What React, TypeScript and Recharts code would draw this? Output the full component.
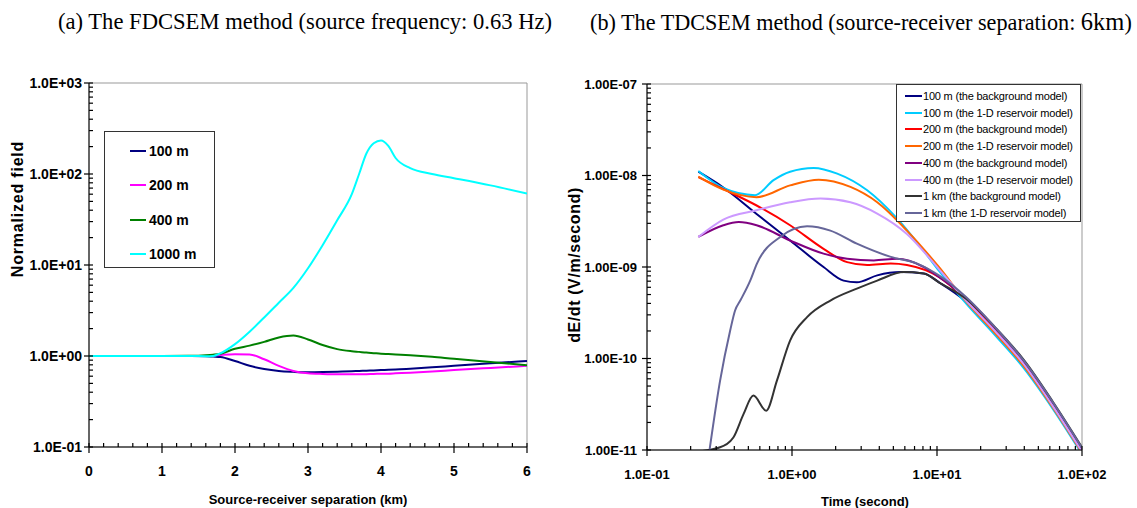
import React from 'react';
import { LineChart, Line, XAxis, YAxis, ReferenceArea, Label } from 'recharts';

// ---------- (a) FDCSEM: normalized field vs source-receiver separation ----------
const separationKm = [0, 0.5, 1.0, 1.4, 1.6, 1.7, 1.8, 2.0, 2.2, 2.4, 2.6, 2.8, 3.0, 3.2, 3.4, 3.6, 3.7, 3.8, 3.9, 4.0, 4.1, 4.2, 4.4, 4.7, 5.0, 5.5, 6.0];
const field100m = [1, 1, 1, 1, 0.995, 0.985, 0.975, 0.88, 0.78, 0.72, 0.685, 0.67, 0.662, 0.665, 0.672, 0.68, 0.685, 0.69, 0.695, 0.70, 0.705, 0.71, 0.725, 0.75, 0.78, 0.83, 0.88];
const field200m = [1, 1, 1, 1, 1.0, 1.01, 1.025, 1.045, 1.04, 0.92, 0.78, 0.685, 0.645, 0.635, 0.63, 0.63, 0.63, 0.632, 0.635, 0.638, 0.64, 0.645, 0.655, 0.675, 0.70, 0.74, 0.78];
const field400m = [1, 1, 1, 1.005, 1.02, 1.035, 1.06, 1.2, 1.3, 1.43, 1.6, 1.68, 1.52, 1.32, 1.19, 1.13, 1.11, 1.09, 1.075, 1.06, 1.05, 1.04, 1.02, 0.98, 0.93, 0.86, 0.79];
const field1000m = [1, 1, 1, 1, 0.995, 1.0, 1.07, 1.35, 1.85, 2.65, 3.85, 5.6, 9.2, 16.5, 31, 60, 100, 168, 218, 234, 204, 150, 116, 100, 90, 75, 61];

const leftSeries = [
  { key: 'm100', name: '100 m', color: '#000080', values: field100m },
  { key: 'm200', name: '200 m', color: '#ff00ff', values: field200m },
  { key: 'm400', name: '400 m', color: '#008000', values: field400m },
  { key: 'm1000', name: '1000 m', color: '#00ffff', values: field1000m },
];
const leftData = separationKm.map((x, i) => {
  const row: Record<string, number> = { x };
  leftSeries.forEach((s) => { row[s.key] = s.values[i]; });
  return row;
});

// ---------- (b) TDCSEM: dE/dt vs time ----------
const time100bg = [0.226, 0.336, 0.57, 0.97, 1.65, 2.27, 2.8, 3.87, 5.6, 8.1, 10.6, 15.85, 25.1, 39.8, 63.1, 100];
const value100bg = [1.1e-8, 7.4e-9, 3.8e-9, 1.95e-9, 1.0e-9, 7.1e-10, 6.8e-10, 8.1e-10, 8.8e-10, 8.5e-10, 6.6e-10, 4.2e-10, 2.0e-10, 8.6e-11, 3.05e-11, 9.8e-12];
const time100res = [0.226, 0.336, 0.557, 0.746, 0.97, 1.41, 2.05, 3.3, 5.3, 8.1, 10.3, 15.85, 25.1, 39.8, 63.1, 100];
const value100res = [1.12e-8, 7.3e-9, 6.1e-9, 8.9e-9, 1.1e-8, 1.21e-8, 1.05e-8, 6.9e-9, 3.4e-9, 1.5e-9, 9.1e-10, 4.0e-10, 1.8e-10, 7.8e-11, 2.8e-11, 9.0e-12];
const time200bg = [0.226, 0.336, 0.57, 0.97, 1.65, 2.4, 3.3, 4.8, 6.2, 10.3, 15.85, 25.1, 39.8, 63.1, 100];
const value200bg = [9.6e-9, 7.1e-9, 4.7e-9, 2.86e-9, 1.58e-9, 1.13e-9, 1.05e-9, 1.09e-9, 1.05e-9, 7.8e-10, 4.4e-10, 2.05e-10, 8.8e-11, 3.1e-11, 1.0e-11];
const time200res = [0.226, 0.336, 0.57, 0.97, 1.53, 2.53, 3.87, 6.2, 10.3, 15.85, 25.1, 39.8, 63.1, 100];
const value200res = [9.7e-9, 7.0e-9, 5.8e-9, 7.8e-9, 9.0e-9, 7.5e-9, 5.1e-9, 2.5e-9, 1.0e-9, 4.2e-10, 1.9e-10, 8.2e-11, 2.9e-11, 9.3e-12];
const time400bg = [0.226, 0.336, 0.43, 0.57, 0.97, 1.65, 2.4, 3.67, 5.3, 8.1, 10.3, 15.85, 25.1, 39.8, 63.1, 100];
const value400bg = [2.13e-9, 2.86e-9, 3.1e-9, 2.86e-9, 1.95e-9, 1.4e-9, 1.23e-9, 1.18e-9, 1.23e-9, 1.0e-9, 7.8e-10, 4.6e-10, 2.15e-10, 9.2e-11, 3.2e-11, 1.02e-11];
const time400res = [0.226, 0.336, 0.57, 0.97, 1.57, 2.53, 3.87, 6.2, 10.3, 15.85, 25.1, 39.8, 63.1, 100];
const value400res = [2.13e-9, 3.3e-9, 4.17e-9, 5.1e-9, 5.6e-9, 5.1e-9, 3.84e-9, 2.3e-9, 9.5e-10, 4.3e-10, 2.0e-10, 8.6e-11, 3.0e-11, 9.6e-12];
const time1kmbg = [0.22, 0.319, 0.394, 0.463, 0.542, 0.664, 0.787, 0.97, 1.27, 1.84, 2.8, 3.87, 5.9, 8.1, 10.3, 15.85, 25.1, 39.8, 63.1, 100];
const value1kmbg = [9.6e-12, 1.07e-11, 1.37e-11, 2.47e-11, 3.93e-11, 2.69e-11, 5.73e-11, 1.57e-10, 2.83e-10, 4.3e-10, 5.8e-10, 7.1e-10, 8.8e-10, 8.5e-10, 6.8e-10, 4.5e-10, 2.2e-10, 9.6e-11, 3.35e-11, 1.07e-11];
const time1kmres = [0.27, 0.319, 0.374, 0.405, 0.44, 0.515, 0.573, 0.83, 1.27, 1.84, 2.8, 4.8, 7.3, 10.3, 15.85, 25.1, 39.8, 63.1, 100];
const value1kmres = [1.0e-11, 5.7e-11, 2.0e-10, 3.35e-10, 4.3e-10, 7.1e-10, 1.09e-9, 2.13e-9, 2.79e-9, 2.5e-9, 1.8e-9, 1.29e-9, 1.09e-9, 8.1e-10, 4.7e-10, 2.2e-10, 9.4e-11, 3.3e-11, 1.05e-11];

const pairs = (ts: number[], vs: number[]) => ts.map((t, i) => ({ t, v: vs[i] }));
const rightSeries = [
  { name: '100 m (the background model)', color: '#000080', data: pairs(time100bg, value100bg) },
  { name: '100 m (the 1-D reservoir model)', color: '#00ccff', data: pairs(time100res, value100res) },
  { name: '200 m (the background model)', color: '#ff0000', data: pairs(time200bg, value200bg) },
  { name: '200 m (the 1-D reservoir model)', color: '#ff6600', data: pairs(time200res, value200res) },
  { name: '400 m (the background model)', color: '#800080', data: pairs(time400bg, value400bg) },
  { name: '400 m (the 1-D reservoir model)', color: '#cc99ff', data: pairs(time400res, value400res) },
  { name: '1 km (the background model)', color: '#333333', data: pairs(time1kmbg, value1kmbg) },
  { name: '1 km (the 1-D reservoir model)', color: '#666699', data: pairs(time1kmres, value1kmres) },
];

// ---------- ticks ----------
const leftYDecades = [-1, 0, 1, 2, 3];
const rightXDecades = [-1, 0, 1, 2];
const rightYDecades = [-11, -10, -9, -8, -7];
const logTicks = (decades: number[]) => {
  const out: number[] = [];
  decades.forEach((d, i) => {
    const base = Math.pow(10, d);
    if (i === decades.length - 1) { out.push(base); return; }
    for (let m = 1; m <= 9; m++) out.push(+(m * base).toPrecision(6));
  });
  return out;
};
const leftXTicks: number[] = [];
for (let i = 0; i <= 30; i++) leftXTicks.push(+(i * 0.2).toFixed(2));
const leftYTicks = logTicks(leftYDecades);
const rightXTicks = logTicks(rightXDecades);
const rightYTicks = logTicks(rightYDecades);

const fmtExp = (v: number, digits: number) => {
  const e = Math.round(Math.log10(v));
  const m = (v / Math.pow(10, e)).toFixed(digits);
  return `${m}E${e < 0 ? '-' : '+'}${String(Math.abs(e)).padStart(2, '0')}`;
};
const isDecade = (v: number) => Math.abs(Math.log10(v) - Math.round(Math.log10(v))) < 1e-6;
const isInteger = (v: number) => Math.abs(v - Math.round(v)) < 1e-6;

const SANS = '"Liberation Sans", Arial, sans-serif';
const SERIF = '"Liberation Serif", "Times New Roman", serif';

const makeXTick = (isMajor: (v: number) => boolean, fmt: (v: number) => string, fontSize: number) => (props: any) => {
  const x = Number(props.x);
  const y = Number(props.y);
  const v = props.payload.value;
  const major = isMajor(v);
  return (
    <g>
      <line x1={x} x2={x} y1={y - 4} y2={major ? y + 6 : y} stroke="#000" strokeWidth={1.2} />
      {major && (
        <text x={x} y={y + 29} textAnchor="middle" fill="#000" fontFamily={SANS} fontWeight={700} fontSize={fontSize}>{fmt(v)}</text>
      )}
    </g>
  );
};
const makeYTick = (isMajor: (v: number) => boolean, fmt: (v: number) => string, gap: number, fontSize: number) => (props: any) => {
  const x = Number(props.x);
  const y = Number(props.y);
  const v = props.payload.value;
  const major = isMajor(v);
  return (
    <g>
      <line x1={major ? x - 5 : x} x2={x + 4} y1={y} y2={y} stroke="#000" strokeWidth={1.2} />
      {major && (
        <text x={x - gap} y={y + 4.5} textAnchor="end" fill="#000" fontFamily={SANS} fontWeight={700} fontSize={fontSize}>{fmt(v)}</text>
      )}
    </g>
  );
};

const LeftXTick = makeXTick(isInteger, (v) => String(Math.round(v)), 14);
const LeftYTick = makeYTick(isDecade, (v) => fmtExp(v, 1), 7, 14);
const RightXTick = makeXTick(isDecade, (v) => fmtExp(v, 1), 13);
const RightYTick = makeYTick(isDecade, (v) => fmtExp(v, 2), 10, 13);

export default function App() {
  return (
    <div style={{ position: 'absolute', left: 0, top: 0, width: 1137, height: 508, background: '#fff' }}>
      <div style={{ position: 'absolute', left: 58, top: 8, fontFamily: SERIF, fontSize: 22.6, lineHeight: '28px', whiteSpace: 'nowrap', color: '#000' }}>
        (a) The FDCSEM method (source frequency: 0.63 Hz)
      </div>
      <div style={{ position: 'absolute', left: 590, top: 8, fontFamily: SERIF, fontSize: 22.2, lineHeight: '28px', whiteSpace: 'nowrap', color: '#000' }}>
        (b) The TDCSEM method (source-receiver separation: <span style={{ fontSize: 24.5 }}>6km</span>)
      </div>

      {/* chart (a) */}
      <div style={{ position: 'absolute', left: 0, top: 0 }}>
        <LineChart width={545} height={508} data={leftData} margin={{ top: 83, right: 18, bottom: 11, left: 0 }}>
          <ReferenceArea x1={0} x2={6} y1={0.1} y2={1000} fill="none" stroke="#999" strokeWidth={1} ifOverflow="visible" />
          <XAxis dataKey="x" type="number" domain={[0, 6]} ticks={leftXTicks} interval={0} height={50}
            tickSize={0} tickMargin={0} tick={LeftXTick} tickLine={false} axisLine={{ stroke: '#000' }} allowDataOverflow>
            <Label content={() => (
              <text x={308} y={504} textAnchor="middle" fill="#000" fontFamily={SANS} fontWeight={700} fontSize={13}>Source-receiver separation (km)</text>
            )} />
          </XAxis>
          <YAxis type="number" scale="log" domain={[0.1, 1000]} ticks={leftYTicks} interval={0} width={89}
            tickSize={0} tickMargin={0} tick={LeftYTick} tickLine={false} axisLine={{ stroke: '#000' }} allowDataOverflow>
            <Label content={() => (
              <text transform="translate(23,209) rotate(-90)" textAnchor="middle" fill="#000" fontFamily={SANS} fontWeight={700} fontSize={16} letterSpacing={0.8}>Normalized field</text>
            )} />
          </YAxis>
          {leftSeries.map((s) => (
            <Line key={s.key} dataKey={s.key} name={s.name} type="monotone" stroke={s.color} strokeWidth={2}
              dot={false} activeDot={false} isAnimationActive={false} />
          ))}
        </LineChart>
      </div>
      <div style={{ position: 'absolute', left: 104, top: 131, width: 111, height: 137, border: '1px solid #333', background: '#fff', boxSizing: 'border-box' }}>
        {leftSeries.map((s, i) => (
          <div key={s.key} style={{ position: 'absolute', left: 0, top: 8.7 + i * 34.5, height: 20, display: 'flex', alignItems: 'center' }}>
            <div style={{ marginLeft: 25, width: 16, height: 2, background: s.color }} />
            <span style={{ marginLeft: 3, fontFamily: SANS, fontWeight: 700, fontSize: 14, color: '#000', whiteSpace: 'nowrap' }}>{s.name}</span>
          </div>
        ))}
      </div>

      {/* chart (b) */}
      <div style={{ position: 'absolute', left: 545, top: 0 }}>
        <LineChart width={592} height={508} margin={{ top: 84, right: 55, bottom: 8, left: 25 }}>
          <ReferenceArea x1={0.1} x2={100} y1={1e-11} y2={1e-7} fill="none" stroke="#999" strokeWidth={1} ifOverflow="visible" />
          <XAxis dataKey="t" type="number" scale="log" domain={[0.1, 100]} ticks={rightXTicks} interval={0} height={50}
            tickSize={0} tickMargin={0} tick={RightXTick} tickLine={false} axisLine={{ stroke: '#000' }} allowDataOverflow>
            <Label content={() => (
              <text x={320} y={506} textAnchor="middle" fill="#000" fontFamily={SANS} fontWeight={700} fontSize={13}>Time (second)</text>
            )} />
          </XAxis>
          <YAxis dataKey="v" type="number" scale="log" domain={[1e-11, 1e-7]} ticks={rightYTicks} interval={0} width={77}
            tickSize={0} tickMargin={0} tick={RightYTick} tickLine={false} axisLine={{ stroke: '#000' }} allowDataOverflow>
            <Label content={() => (
              <text transform="translate(35,265) rotate(-90)" textAnchor="middle" fill="#000" fontFamily={SANS} fontWeight={700} fontSize={16} letterSpacing={0.6}>dE/dt  (V/m/second)</text>
            )} />
          </YAxis>
          {rightSeries.map((s) => (
            <Line key={s.name} data={s.data} dataKey="v" name={s.name} type="monotone" stroke={s.color} strokeWidth={2}
              dot={false} activeDot={false} isAnimationActive={false} />
          ))}
        </LineChart>
      </div>
      <div style={{ position: 'absolute', left: 896, top: 84, width: 185, height: 138, border: '1px solid #333', background: '#fff', boxSizing: 'border-box' }}>
        {rightSeries.map((s, i) => (
          <div key={s.name} style={{ position: 'absolute', left: 0, top: 3 + i * 16.7, height: 16, display: 'flex', alignItems: 'center' }}>
            <div style={{ marginLeft: 8, width: 17, height: 2, background: s.color }} />
            <span style={{ marginLeft: 1, fontFamily: SANS, fontSize: 11, letterSpacing: -0.2, color: '#000', whiteSpace: 'nowrap' }}>{s.name}</span>
          </div>
        ))}
      </div>
    </div>
  );
}
